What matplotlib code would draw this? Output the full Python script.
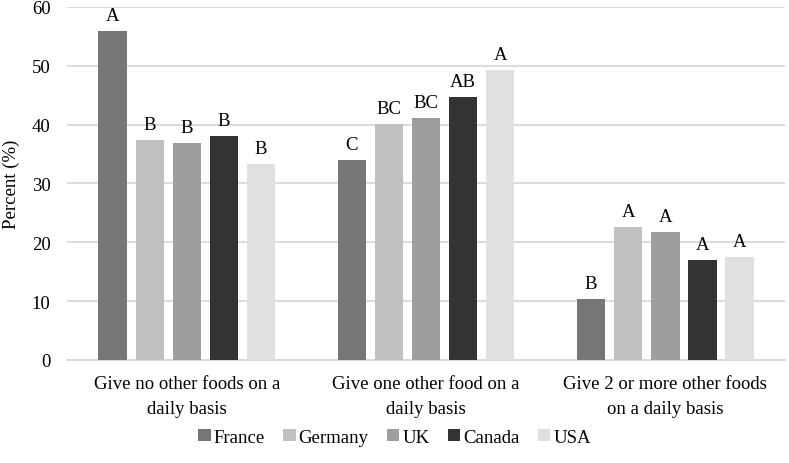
import numpy as np
import matplotlib
matplotlib.use("Agg")
import matplotlib.pyplot as plt

plt.rcParams['font.family'] = ['Liberation Serif', 'DejaVu Serif']

categories = ["Give no other foods on a\ndaily basis",
              "Give one other food on a\ndaily basis",
              "Give 2 or more other foods\non a daily basis"]
countries = ["France", "Germany", "UK", "Canada", "USA"]
colors = ["#767676", "#c0c0c0", "#9e9e9e", "#333333", "#e0e0e0"]

france = [55.9, 33.9, 10.4]
germany = [37.3, 40.1, 22.6]
uk = [36.9, 41.1, 21.8]
canada = [38.1, 44.7, 17.0]
usa = [33.3, 49.3, 17.5]
series = [france, germany, uk, canada, usa]

letters_france = ["A", "C", "B"]
letters_germany = ["B", "BC", "A"]
letters_uk = ["B", "BC", "A"]
letters_canada = ["B", "AB", "A"]
letters_usa = ["B", "A", "A"]
letters = [letters_france, letters_germany, letters_uk, letters_canada, letters_usa]

fs = 13.5

fig = plt.figure(figsize=(7.89, 4.64), dpi=100)
ax = fig.add_axes([0.085, 0.222, 0.91, 0.761])

x = np.arange(len(categories))
width = 0.118
step = 0.155

for i, (name, vals, col, labs) in enumerate(zip(countries, series, colors, letters)):
    pos = x + (i - 2) * step
    ax.bar(pos, vals, width=width, color=col, label=name, zorder=3)
    for p, v, t in zip(pos, vals, labs):
        ax.text(p, v + 1.2, t, ha='center', va='bottom', fontsize=fs, zorder=4)

ax.set_xlim(-0.5, 2.5)
ax.set_ylim(0, 60)
ax.set_yticks(range(0, 61, 10))
ax.set_xticks(x)
ax.set_xticklabels(categories, fontsize=fs, linespacing=1.6)
ax.tick_params(axis='y', labelsize=fs, length=0, pad=12)
ax.tick_params(axis='x', length=0, pad=11)
ax.yaxis.grid(True, color='#d9d9d9', linewidth=1.3, zorder=0)
for s in ['top', 'right', 'left']:
    ax.spines[s].set_visible(False)
ax.spines['bottom'].set_color('#d9d9d9')
ax.spines['bottom'].set_linewidth(1.3)
ax.set_ylabel("Percent (%)", fontsize=fs)
ax.yaxis.set_label_coords(-0.066, 0.5)

fig.legend(*ax.get_legend_handles_labels(), loc='center', bbox_to_anchor=(0.5, 0.056),
           ncol=5, frameon=False, fontsize=fs, handlelength=0.65, handleheight=0.65,
           handletextpad=0.15, columnspacing=1.0)

fig.savefig("out.png", dpi=100)
